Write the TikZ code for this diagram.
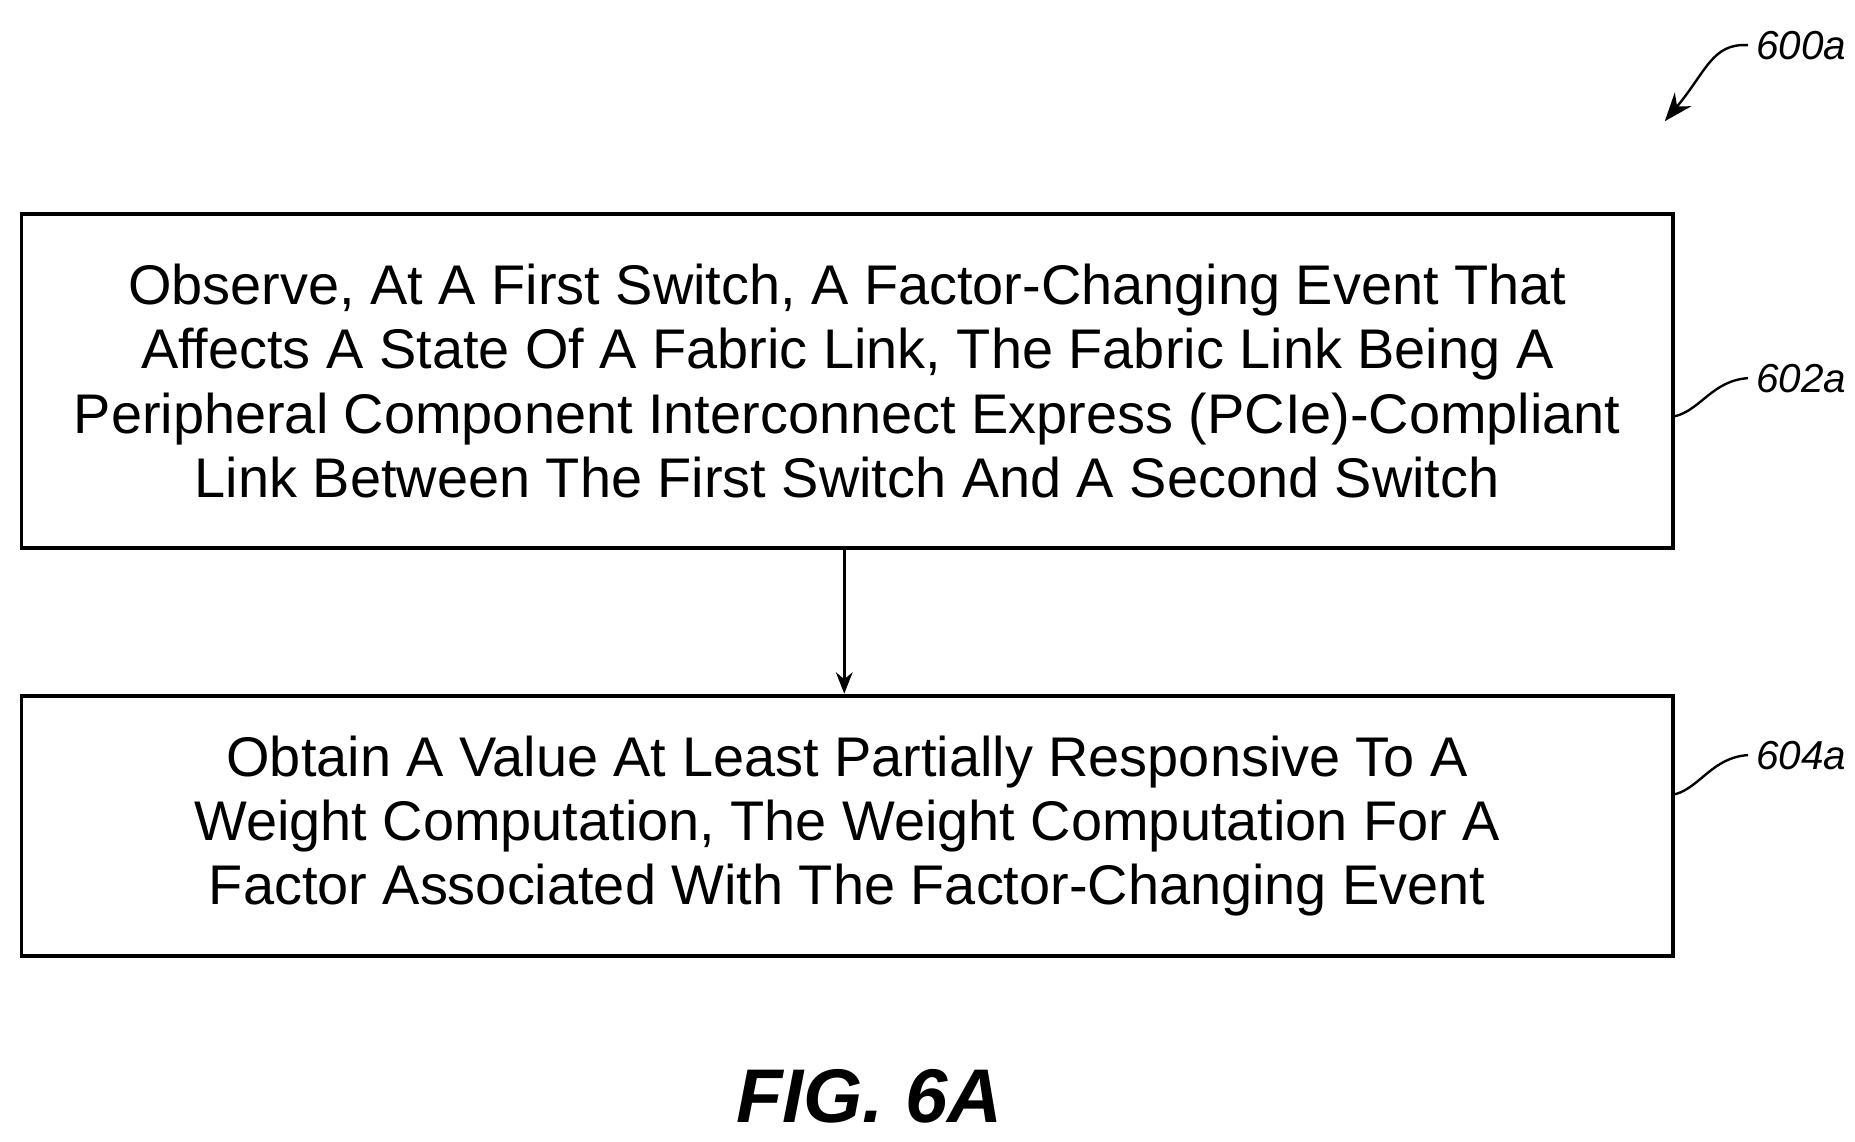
\documentclass[tikz,border=0pt]{standalone}
\usepackage{fontspec}
\setmainfont{Liberation Sans}
\usetikzlibrary{arrows.meta}
\begin{document}
\begin{tikzpicture}[x=0.5pt,y=-0.5pt,
  box/.style={draw,line width=1.6pt,minimum width=694.5pt,align=center,font=\fontsize{23.5}{27}\selectfont},
  lbl/.style={font=\itshape\fontsize{17}{20}\selectfont},
  sq/.style={line width=1pt}]
\useasboundingbox (0,0) rectangle (1560,960);
\node[box,minimum height=140.5pt] (b1) at (712.5,320.5) {Observe, At A First Switch, A Factor-Changing Event That\\Affects A State Of A Fabric Link, The Fabric Link Being A\\Peripheral Component Interconnect Express (PCIe)-Compliant\\Link Between The First Switch And A Second Switch};
\node[box,minimum height=109.5pt] (b2) at (712.5,694.5) {Obtain A Value At Least Partially Responsive To A\\Weight Computation, The Weight Computation For A\\Factor Associated With The Factor-Changing Event};
\draw[line width=1.2pt,-{Stealth[length=9pt,width=7pt]}] (b1.south -| 710,0) -- (b2.north -| 710,0);
\node[lbl,anchor=west] (l1) at (1470,318) {602a};
\node[lbl,anchor=west] (l2) at (1470,635) {604a};
\node[lbl,anchor=west] (l0) at (1470,38) {600a};
\draw[sq] (b1.east |- 0,350) .. controls (1430,345) and (1440,320) .. (l1.west);
\draw[sq] (b2.east |- 0,668) .. controls (1430,662) and (1440,637) .. (l2.west);
\coordinate (t0) at (1400,102);
\draw[sq,-{Stealth[length=12pt,width=9pt]}] (l0.west) .. controls (1440,36) and (1435,60) .. (t0);
\node[font=\bfseries\itshape\fontsize{32}{36}\selectfont] (fig) at (731,922) {FIG. 6A};
\end{tikzpicture}
\end{document}
